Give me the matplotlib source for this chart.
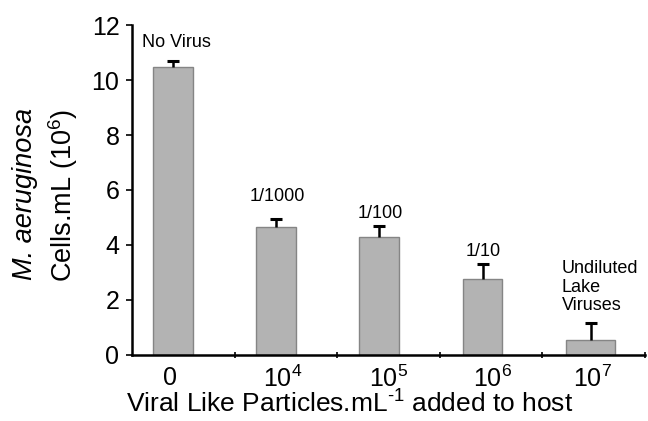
import matplotlib
matplotlib.use("Agg")
import matplotlib.pyplot as plt
import numpy as np

categories = ["0", "$10^4$", "$10^5$", "$10^6$", "$10^7$"]
values = [10.48, 4.67, 4.30, 2.75, 0.55]
err_up = [0.21, 0.28, 0.40, 0.56, 0.62]
annotations = ["No Virus", "1/1000", "1/100", "1/10", "Undiluted\nLake\nViruses"]

plt.rcParams['font.family'] = ['Liberation Sans', 'DejaVu Sans']
plt.rcParams['mathtext.fontset'] = 'custom'
plt.rcParams['mathtext.rm'] = 'Liberation Sans'
plt.rcParams['mathtext.it'] = 'Liberation Sans:italic'
plt.rcParams['mathtext.default'] = 'regular'

fig = plt.figure(figsize=(6.48, 4.21), dpi=100)
ax = fig.add_axes([0.2037, 0.1568, 0.9954 - 0.2037, 0.9406 - 0.1568])

bar_x = [0.40, 1.40, 2.41, 3.42, 4.47]
bar_w = [0.39, 0.39, 0.39, 0.38, 0.48]
ax.bar(bar_x, values, width=bar_w, color='#b3b3b3', edgecolor='#858585', linewidth=1.0, zorder=2)
tops = np.array(values) + np.array(err_up)
ax.vlines(bar_x, values, tops, colors='black', linewidth=1.8, zorder=3)
ax.plot(bar_x, tops, linestyle='none', marker='_', markersize=8, markeredgewidth=2.2,
        color='black', zorder=3)

ax.set_xlim(0, 5)
ax.set_ylim(0, 12)
ax.set_yticks(range(0, 13, 2))
ax.tick_params(axis='y', labelsize=18, length=4, width=1.2, direction='out', pad=5)

label_x = [0.37, 1.47, 2.5, 3.51, 4.49]
ax.set_xticks(label_x)
ax.set_xticklabels(categories, fontsize=18)
ax.tick_params(axis='x', which='major', length=0, pad=8)
ax.set_xticks([1, 2, 3, 4, 5], minor=True)
ax.tick_params(axis='x', which='minor', length=5, width=1.2, direction='inout')

for s in ['top', 'right']:
    ax.spines[s].set_visible(False)
ax.spines['left'].set_linewidth(1.8)
ax.spines['bottom'].set_linewidth(1.8)

ax.set_xlabel(r"Viral Like Particles.mL$^{\text{-1}}$ added to host", fontsize=19, labelpad=0)
ax.xaxis.set_label_coords(0.425, -0.148)
ax.xaxis.label.set_verticalalignment('center')

ann_pos = [(0.43, 11.35, 'center'), (1.42, 5.75, 'center'), (2.42, 5.16, 'center'),
           (3.42, 3.75, 'center'), (4.19, 2.47, 'left')]
for txt, (x, y, ha) in zip(annotations, ann_pos):
    ax.text(x, y, txt, ha=ha, va='center', fontsize=13, linespacing=1.1)

fig.text(25 / 648, 1 - 194 / 421, "M. aeruginosa", rotation=90, ha='center', va='center',
         fontsize=19.5, style='italic')
fig.text(63 / 648, 1 - 195 / 421, "Cells.mL (10$^6$)", rotation=90, ha='center', va='center',
         fontsize=19.5)

fig.savefig("out.png", dpi=100)
